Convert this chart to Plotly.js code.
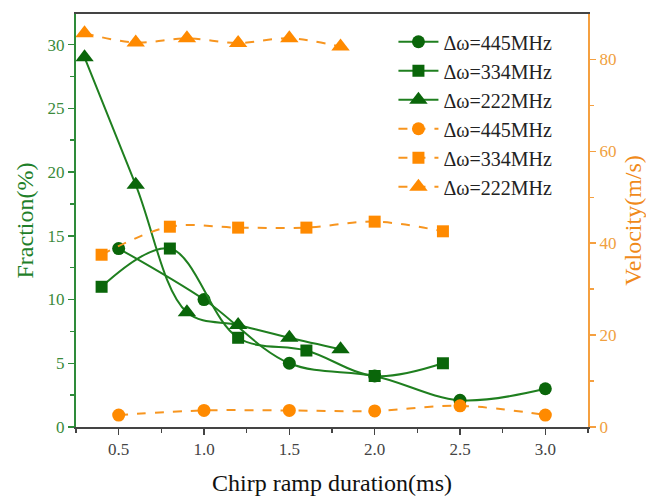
<!DOCTYPE html>
<html>
<head>
<meta charset="utf-8">
<script src="https://cdn.plot.ly/plotly-3.0.1.min.js"></script>
<style>html,body{margin:0;padding:0;background:#fff;}#chart{width:646px;height:496px;}</style>
</head>
<body>
<div id="chart"></div>
<script>
const xCircle = [0.5, 1.0, 1.5, 2.0, 2.5, 3.0];
const xSquare = [0.4, 0.8, 1.2, 1.6, 2.0, 2.4];
const xTriangle = [0.3, 0.6, 0.9, 1.2, 1.5, 1.8];
const fracCircle = [14, 10, 5, 4, 2.1, 3];
const fracSquare = [11, 14, 7, 6, 4, 5];
const fracTriangle = [29, 19, 9, 8, 7, 6.1];
const velCircle = [2.6, 3.6, 3.6, 3.5, 4.6, 2.6];
const velSquare = [37.5, 43.6, 43.4, 43.4, 44.7, 42.6];
const velTriangle = [85.7, 83.7, 84.6, 83.6, 84.6, 82.8];
const names = ['\u0394\u03c9=445MHz', '\u0394\u03c9=334MHz', '\u0394\u03c9=222MHz'];

const GREEN_LINE = '#1f7f1f';
const GREEN = '#0a660a';
const ORANGE = '#ff8a00';
const ORANGE_LINE = '#f7951f';
const FONT = 'Liberation Serif';

function tr(x, y, name, sym, size, color, lcolor, dash, yaxis) {
  return {
    x: x, y: y, name: name, yaxis: yaxis, type: 'scatter', mode: 'lines+markers',
    line: {color: lcolor, width: 2, shape: 'spline', smoothing: 1, dash: dash},
    marker: {symbol: sym, size: size, color: color}
  };
}

const data = [
  tr(xCircle, fracCircle, names[0], 'circle', 13, GREEN, GREEN_LINE, 'solid', 'y'),
  tr(xSquare, fracSquare, names[1], 'square', 12, GREEN, GREEN_LINE, 'solid', 'y'),
  tr(xTriangle, fracTriangle, names[2], 'triangle-up', 16, GREEN, GREEN_LINE, 'solid', 'y'),
  tr(xCircle, velCircle, names[0], 'circle', 13, ORANGE, ORANGE_LINE, 'dash', 'y2'),
  tr(xSquare, velSquare, names[1], 'square', 12, ORANGE, ORANGE_LINE, 'dash', 'y2'),
  tr(xTriangle, velTriangle, names[2], 'triangle-up', 16, ORANGE, ORANGE_LINE, 'dash', 'y2')
];

const layout = {
  width: 646, height: 496,
  margin: {l: 76, r: 58, t: 14, b: 69},
  paper_bgcolor: '#fff', plot_bgcolor: '#fff',
  font: {family: FONT, size: 17, color: '#333'},
  showlegend: true,
  legend: {x: 0.62, y: 0.98, xanchor: 'left', yanchor: 'top', bgcolor: 'rgba(0,0,0,0)',
           font: {family: FONT, size: 20, color: '#222'}, tracegroupgap: 0, itemwidth: 40},
  xaxis: {
    range: [0.25, 3.25], tickvals: [0.5, 1.0, 1.5, 2.0, 2.5, 3.0], ticktext: ['0.5','1.0','1.5','2.0','2.5','3.0'],
    showgrid: false, zeroline: false, showline: true, linecolor: '#444', linewidth: 2, mirror: true,
    ticks: 'outside', ticklen: 6, tickwidth: 1.5, tickcolor: '#444',
    minor: {dtick: 0.25, tick0: 0.25, ticks: 'outside', ticklen: 4, tickcolor: '#444', showgrid: false},
    tickfont: {family: FONT, size: 17, color: '#444'},
    title: {text: 'Chirp ramp duration(ms)', font: {family: FONT, size: 24, color: '#111'}, standoff: 16}
  },
  yaxis: {
    range: [0, 32.4], dtick: 5, tick0: 0,
    showgrid: false, zeroline: false, showline: true, linecolor: '#2e8b3a', linewidth: 2,
    ticks: 'outside', ticklen: 6, tickwidth: 1.5, tickcolor: '#2e8b3a',
    minor: {dtick: 2.5, tick0: 0, ticks: 'outside', ticklen: 4, tickcolor: '#2e8b3a', showgrid: false},
    tickfont: {family: FONT, size: 17, color: '#3a8a3a'},
    title: {text: 'Fraction(%)', font: {family: FONT, size: 24, color: '#1f7f2a'}, standoff: 7}
  },
  yaxis2: {
    overlaying: 'y', side: 'right', range: [0, 89.9], dtick: 20, tick0: 0,
    showgrid: false, zeroline: false, showline: true, linecolor: '#f5a040', linewidth: 2,
    ticks: 'outside', ticklen: 6, tickwidth: 1.5, tickcolor: '#f5a040',
    minor: {dtick: 10, tick0: 0, ticks: 'outside', ticklen: 4, tickcolor: '#f5a040', showgrid: false},
    tickfont: {family: FONT, size: 17, color: '#f0a040'},
    title: {text: 'Velocity(m/s)', font: {family: FONT, size: 24, color: '#f08a1a'}, standoff: 10}
  }
};

Plotly.newPlot('chart', data, layout, {displayModeBar: false, staticPlot: true});
</script>
</body>
</html>
